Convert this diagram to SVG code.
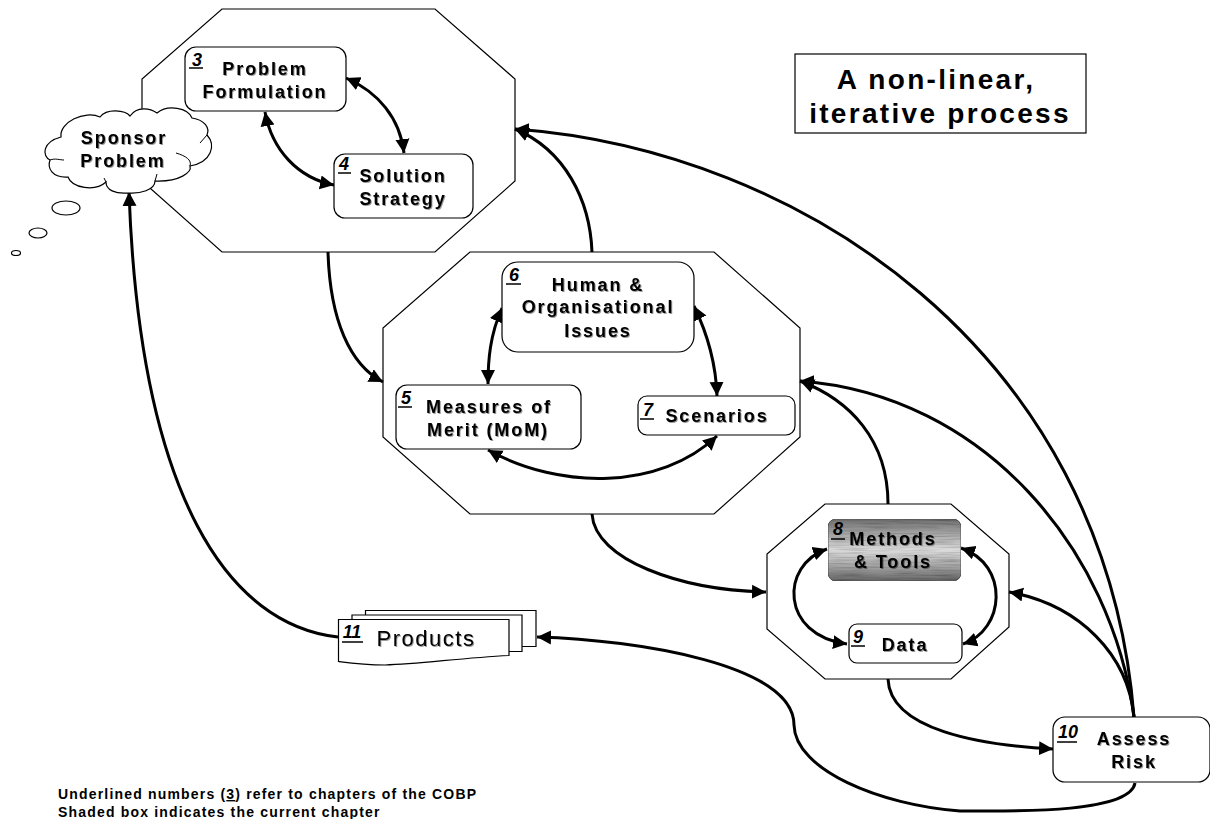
<svg xmlns="http://www.w3.org/2000/svg" width="1210" height="819" viewBox="0 0 1210 819">
<style>
text{font-family:"Liberation Sans",Arial,sans-serif;fill:#000}
.oct{fill:#fff;stroke:#000;stroke-width:1.2}
.box{fill:#fff;stroke:#000;stroke-width:1.2}
.lbl{font-weight:bold;font-size:18px;letter-spacing:1.9px;text-anchor:middle;filter:url(#sh)}
.num{font-weight:bold;font-style:italic;font-size:18px;text-anchor:middle}
.ul{stroke:#000;stroke-width:1.5}
.c{fill:none;stroke:#000;stroke-width:3}
.e{marker-end:url(#a)}
.b{marker-start:url(#a);marker-end:url(#a)}
.foot{font-weight:bold;font-size:14px;letter-spacing:1.18px}
</style>
<defs>
<marker id="a" markerUnits="userSpaceOnUse" markerWidth="15" markerHeight="15" refX="14" refY="7.500" orient="auto-start-reverse"><path d="M0,0.500 L14,7.500 L0,14.500 Z" fill="#000"/></marker>
<filter id="sh" x="-10%" y="-20%" width="120%" height="140%"><feDropShadow dx="1" dy="1" stdDeviation="0.6" flood-color="#000" flood-opacity="0.4"/></filter>
<filter id="brush" x="0" y="0" width="100%" height="100%"><feTurbulence type="fractalNoise" baseFrequency="0.03 0.6" numOctaves="2" seed="4" result="n"/><feColorMatrix in="n" type="matrix" values="0 0 0 0 0  0 0 0 0 0  0 0 0 0 0  0.800 0 0 0 -0.320" result="m"/><feComposite in="m" in2="SourceAlpha" operator="in" result="t"/><feMerge><feMergeNode in="SourceGraphic"/><feMergeNode in="t"/></feMerge></filter>
<linearGradient id="g" x1="0" y1="0" x2="0" y2="1"><stop offset="0" stop-color="#6e6e6e"/><stop offset="0.25" stop-color="#a8a8a8"/><stop offset="0.5" stop-color="#dcdcdc"/><stop offset="0.75" stop-color="#a8a8a8"/><stop offset="1" stop-color="#666"/></linearGradient>
</defs>

<g id="octagon-a"><polygon class="oct" points="222,9 435,9 515,79 515,181 435,252 222,252 142,181 142,79"/></g>
<g id="octagon-b"><polygon class="oct" points="470,252 714,252 800,328 800,437 714,514 470,514 383,437 383,328"/></g>
<g id="octagon-c"><polygon class="oct" points="825,504 951,504 1009,554 1009,627 951,679 825,679 767,629 767,554"/></g>

<g id="connectors">
<path class="c b" d="M346,78 C378,92 400,118 404,153"/>
<path class="c b" d="M265,112 C272,150 298,178 334,185"/>
<path class="c e" d="M328,252 C330,320 350,365 383,382"/>
<path class="c e" d="M592,252 C590,200 565,150 515,129"/>
<path class="c e" d="M1134,717 C1105,350 800,150 515,129"/>
<path class="c e" d="M1134,717 C1112,550 985,395 800,381"/>
<path class="c e" d="M888,504 C888,440 850,400 800,381"/>
<path class="c e" d="M1134,717 C1128,655 1080,605 1009,592"/>
<path class="c e" d="M592,514 C595,560 680,590 766,592"/>
<path class="c e" d="M888,679 C890,730 980,745 1053,749"/>
<path class="c e" d="M338,637 C230,625 140,500 129,192"/>
<path class="c e" d="M1135,783 C1130,815 1000,811 960,811 C880,805 795,770 794,725 C794,665 640,640 537,637"/>
<path class="c b" d="M827,549 C780,565 780,635 847,644"/>
<path class="c b" d="M961,548 C1010,565 1005,630 963,644"/>
<path class="c b" d="M502,308 C490,335 488,360 488,384"/>
<path class="c b" d="M694,306 C708,335 716,365 717,396"/>
<path class="c b" d="M488,450 C560,490 660,490 717,436"/>
</g>

<g id="cloud">
<path d="M61,137 C59,122 85,110 100,117 C107,108 125,110 130,116 C137,106 150,108 157,113 C168,104 188,108 192,118 C205,120 210,128 207,135 C216,145 212,162 190,166 C192,172 180,182 155,181 C155,190 140,194 128,193 C115,194 106,190 106,182 C95,192 72,188 68,177 C52,178 47,168 50,160 C42,156 42,142 61,137 Z" fill="#fff" stroke="#000" stroke-width="1.2"/>
<path d="M176,153 C186,156 192,160 190,166 M207,135 L200,143 M50,160 C55,158 60,160 64,160 M155,181 L157,174 M106,182 L104,178" fill="none" stroke="#000" stroke-width="1"/>
<text class="lbl" x="124" y="144">Sponsor</text>
<text class="lbl" x="123" y="167">Problem</text>
</g>
<g id="thought-bubbles">
<ellipse cx="66" cy="208" rx="14" ry="7" fill="#fff" stroke="#000" stroke-width="1.2"/>
<ellipse cx="38" cy="233" rx="9" ry="5" fill="#fff" stroke="#000" stroke-width="1.2"/>
<ellipse cx="16" cy="253" rx="4.500" ry="2.500" fill="#fff" stroke="#000" stroke-width="1.2"/>
</g>

<g id="node-3">
<rect class="box" x="185" y="47" width="161" height="64" rx="11"/>
<text class="num" x="197" y="66">3</text><line class="ul" x1="189" y1="68" x2="203" y2="68"/>
<text class="lbl" x="265" y="75">Problem</text>
<text class="lbl" x="265" y="98">Formulation</text>
</g>
<g id="node-4">
<rect class="box" x="334" y="154" width="139" height="64" rx="11"/>
<text class="num" x="344" y="170">4</text><line class="ul" x1="338" y1="173" x2="351" y2="173"/>
<text class="lbl" x="403" y="182">Solution</text>
<text class="lbl" x="403" y="205">Strategy</text>
</g>
<g id="node-6">
<rect class="box" x="502" y="262" width="192" height="90" rx="16"/>
<text class="num" x="514" y="281">6</text><line class="ul" x1="506" y1="284" x2="521" y2="284"/>
<text class="lbl" x="598" y="291">Human &amp;</text>
<text class="lbl" x="598" y="313">Organisational</text>
<text class="lbl" x="598" y="337">Issues</text>
</g>
<g id="node-5">
<rect class="box" x="396" y="385" width="185" height="64" rx="11"/>
<text class="num" x="406" y="404">5</text><line class="ul" x1="398" y1="407" x2="412" y2="407"/>
<text class="lbl" x="489" y="413">Measures of</text>
<text class="lbl" x="488" y="436">Merit (MoM)</text>
</g>
<g id="node-7">
<rect class="box" x="638" y="396" width="157" height="39" rx="9"/>
<text class="num" x="648" y="416">7</text><line class="ul" x1="640" y1="419" x2="654" y2="419"/>
<text class="lbl" x="717" y="422">Scenarios</text>
</g>
<g id="node-8">
<rect x="828" y="519" width="133" height="62" rx="8" fill="url(#g)" stroke="#555" stroke-width="1" filter="url(#brush)"/>
<text class="num" x="838" y="535">8</text><line class="ul" x1="831" y1="539" x2="845" y2="539"/>
<text class="lbl" x="893" y="545">Methods</text>
<text class="lbl" x="893" y="568">&amp; Tools</text>
</g>
<g id="node-9">
<rect class="box" x="849" y="624" width="113" height="39" rx="8"/>
<text class="num" x="858" y="643">9</text><line class="ul" x1="851" y1="646" x2="865" y2="646"/>
<text class="lbl" x="905" y="651">Data</text>
</g>
<g id="node-10">
<rect class="box" x="1053" y="717" width="157" height="65" rx="12"/>
<text class="num" x="1068" y="738">10</text><line class="ul" x1="1057" y1="742" x2="1077" y2="742"/>
<text class="lbl" x="1134" y="745">Assess</text>
<text class="lbl" x="1134" y="768">Risk</text>
</g>
<g id="node-11">
<path class="box" d="M365.500,621 V610.500 H536 V646.500 H522"/>
<path class="box" d="M352,619 V615 H522 V651.500 H509"/>
<path class="box" d="M338.500,619.500 H509 V655.500 C460,658 420,664 385,665 C365,665 350,663 338.500,661.500 Z"/>
<text class="num" x="352" y="638">11</text><line class="ul" x1="342" y1="642" x2="363" y2="642"/>
<text x="426" y="646" text-anchor="middle" font-size="22" letter-spacing="1.5" filter="url(#sh)">Products</text>
</g>

<g id="title">
<rect x="795" y="54" width="291" height="79" fill="#fff" stroke="#000" stroke-width="1.2"/>
<text x="936" y="89" text-anchor="middle" font-size="28" font-weight="bold" letter-spacing="2.3">A non-linear,</text>
<text x="940" y="123" text-anchor="middle" font-size="28" font-weight="bold" letter-spacing="2.3">iterative process</text>
</g>
<g id="footnote">
<text class="foot" x="58" y="799">Underlined numbers (<tspan text-decoration="underline">3</tspan>) refer to chapters of the COBP</text>
<text class="foot" x="58" y="817">Shaded box indicates the current chapter</text>
</g>
</svg>
